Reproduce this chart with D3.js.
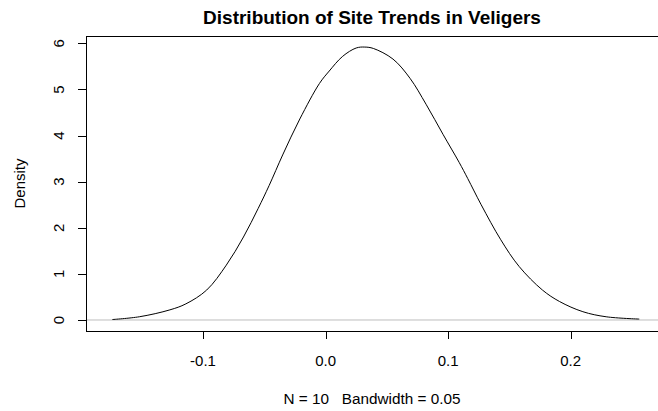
<!DOCTYPE html>
<html>
<head>
<meta charset="utf-8">
<script src="https://cdn.jsdelivr.net/npm/d3@7"></script>
<style>
  body { margin: 0; background: #fff; }
  text { font-family: "Liberation Sans", Arial, sans-serif; fill: #000; }
</style>
</head>
<body>
<svg id="chart"></svg>
<script>
// density estimate
var trendX = [-0.174, -0.152, -0.127, -0.114, -0.097, -0.081, -0.067, -0.055, -0.046, -0.035, -0.021, -0.005, 0.003, 0.014, 0.025, 0.032, 0.039, 0.055, 0.069, 0.082, 0.096, 0.109, 0.116, 0.127, 0.143, 0.158, 0.177, 0.191, 0.210, 0.229, 0.256];
var densityY = [0.01, 0.07, 0.22, 0.35, 0.65, 1.19, 1.80, 2.42, 2.92, 3.58, 4.36, 5.13, 5.40, 5.72, 5.90, 5.92, 5.89, 5.66, 5.24, 4.68, 4.02, 3.42, 3.07, 2.50, 1.74, 1.16, 0.65, 0.40, 0.18, 0.07, 0.02];
var xTicks = [-0.1, 0.0, 0.1, 0.2];
var xTickLabels = ["-0.1", "0.0", "0.1", "0.2"];
var yTicks = [0, 1, 2, 3, 4, 5, 6];
var titleText = "Distribution of Site Trends in Veligers";
var subText = "N = 10   Bandwidth = 0.05";

function init(){
    var width = 658;
    var height = 411;
    var left = 86, right = 658, top = 36, bottom = 331;
    var svg = d3.select("#chart").attr("width", width).attr("height", height);

    var x = d3.scaleLinear().domain([-0.1955, 0.2713]).range([left, right]);
    var y = d3.scaleLinear().domain([-0.2386, 6.16]).range([bottom, top]);

    var pts = trendX.map(function(v, i){ return {x: v, y: densityY[i]}; });

    // zero line
    svg.append("line")
        .attr("x1", left).attr("x2", right)
        .attr("y1", y(0)).attr("y2", y(0))
        .attr("stroke", "#bebebe")
        .attr("stroke-width", 1);

    // density curve
    var line = d3.line()
        .x(function(d){ return x(d.x); })
        .y(function(d){ return y(d.y); })
        .curve(d3.curveCatmullRom.alpha(0.5));
    svg.append("path")
        .attr("fill", "none")
        .attr("stroke", "#000")
        .attr("stroke-width", 1)
        .attr("d", line(pts));

    // box
    svg.append("rect")
        .attr("x", left + 0.5).attr("y", top + 0.5)
        .attr("width", right - left + 10).attr("height", bottom - top)
        .attr("fill", "none")
        .attr("stroke", "#000")
        .attr("stroke-width", 1);

    // x axis
    var xa = svg.append("g");
    xa.append("line")
        .attr("x1", x(xTicks[0])).attr("x2", x(xTicks[xTicks.length - 1]))
        .attr("y1", bottom + 0.5).attr("y2", bottom + 0.5)
        .attr("stroke", "#000");
    xa.selectAll("line.tk")
        .data(xTicks)
        .enter()
        .append("line")
        .attr("class", "tk")
        .attr("x1", function(d){ return Math.round(x(d)) + 0.5; })
        .attr("x2", function(d){ return Math.round(x(d)) + 0.5; })
        .attr("y1", bottom).attr("y2", bottom + 8)
        .attr("stroke", "#000");
    xa.selectAll("text")
        .data(xTicks)
        .enter()
        .append("text")
        .attr("x", function(d){ return x(d); })
        .attr("y", 366)
        .attr("text-anchor", "middle")
        .style("font-size", "15px")
        .text(function(d, i){ return xTickLabels[i]; });

    // y axis
    var ya = svg.append("g");
    ya.selectAll("line")
        .data(yTicks)
        .enter()
        .append("line")
        .attr("x1", left - 8).attr("x2", left)
        .attr("y1", function(d){ return Math.round(y(d)) + 0.5; })
        .attr("y2", function(d){ return Math.round(y(d)) + 0.5; })
        .attr("stroke", "#000");
    ya.selectAll("text")
        .data(yTicks)
        .enter()
        .append("text")
        .attr("transform", function(d){ return "translate(64," + y(d) + ") rotate(-90)"; })
        .attr("text-anchor", "middle")
        .style("font-size", "15px")
        .text(function(d){ return d; });

    // titles
    svg.append("text")
        .attr("x", (left + right) / 2)
        .attr("y", 24)
        .attr("text-anchor", "middle")
        .style("font-size", "19px")
        .style("font-weight", "bold")
        .text(titleText);
    svg.append("text")
        .attr("x", (left + right) / 2)
        .attr("y", 404)
        .attr("text-anchor", "middle")
        .style("font-size", "15.3px")
        .style("white-space", "pre")
        .attr("xml:space", "preserve")
        .text(subText);
    svg.append("text")
        .attr("transform", "translate(25," + (top + bottom) / 2 + ") rotate(-90)")
        .attr("text-anchor", "middle")
        .style("font-size", "15px")
        .text("Density");
}
init();
</script>
</body>
</html>
